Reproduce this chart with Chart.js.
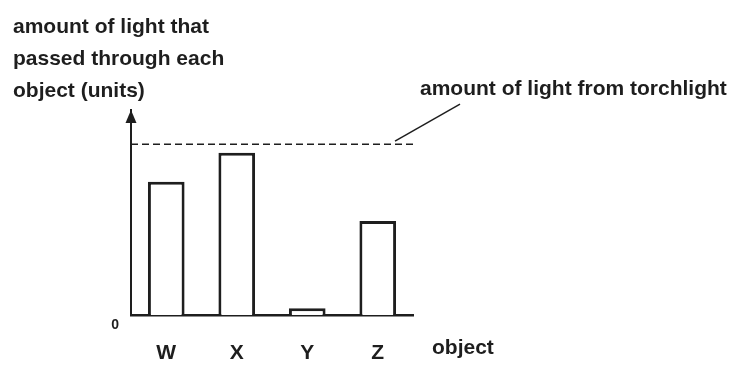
<!DOCTYPE html>
<html>
<head>
<meta charset="utf-8">
<script src="https://cdn.jsdelivr.net/npm/chart.js@4.4.0/dist/chart.umd.min.js"></script>
<style>
   html, body { margin: 0; padding: 0; background: #fff; }
   canvas { display: block; }
</style>
</head>
<body>
<canvas id="myChart" width="736" height="367"></canvas>
<script>
"use strict";

const objects = ["W", "X", "Y", "Z"];
const lightPassed = [78, 95, 4, 55];
const torchLight = 100;
const yTickLabels = [0];
const yTitle = ["amount of light that", "passed through each", "object (units)"];
const xTitle = "object";
const torchLabel = "amount of light from torchlight";

const ink = "#1e1e1e";
const font = "'Liberation Sans', Arial, sans-serif";

// axis arrow, torchlight line, leader and the free texts
const annotations = {
   id: "annotations",
   afterDraw(chart) {
      const ctx = chart.ctx;
      const area = chart.chartArea;
      const ty = chart.scales.y.getPixelForValue(torchLight);
      ctx.save();
      ctx.fillStyle = ink;
      ctx.strokeStyle = ink;

      ctx.beginPath();
      ctx.moveTo(area.left, area.top);
      ctx.lineTo(area.left - 5.5, area.top + 13);
      ctx.lineTo(area.left + 5.5, area.top + 13);
      ctx.closePath();
      ctx.fill();

      ctx.lineWidth = 1.5;
      ctx.setLineDash([7, 4]);
      ctx.beginPath();
      ctx.moveTo(area.left, ty);
      ctx.lineTo(area.right + 4, ty);
      ctx.stroke();
      ctx.setLineDash([]);

      ctx.beginPath();
      ctx.moveTo(area.right - 18, ty - 3);
      ctx.lineTo(area.right + 47, ty - 40);
      ctx.stroke();

      ctx.textAlign = "left";
      ctx.textBaseline = "alphabetic";
      ctx.font = "bold 21px " + font;
      ctx.fillText(torchLabel, area.right + 7, ty - 49);

      yTitle.forEach((line, i) => {
         ctx.fillText(line, 13, 33 + i * 32);
      });

      ctx.fillText(xTitle, area.right + 19, area.bottom + 39);
      ctx.restore();
   },
};

const ctx = document.getElementById("myChart").getContext("2d");
const myChart = new Chart(ctx, {
   type: "bar",
   data: {
      labels: objects,
      datasets: [
         {
            label: "amount of light",
            data: lightPassed,
            backgroundColor: "#fff",
            borderColor: ink,
            borderWidth: 3,
            barPercentage: 0.52,
            categoryPercentage: 1,
         },
      ],
   },
   options: {
      responsive: false,
      animation: false,
      devicePixelRatio: 1,
      layout: {
         padding: { left: 110, right: 323, top: 110, bottom: 0 },
      },
      plugins: {
         legend: { display: false },
         tooltip: { enabled: false },
      },
      scales: {
         x: {
            grid: { display: false, drawTicks: false },
            border: { display: true, color: ink, width: 2.5 },
            ticks: {
               color: ink,
               padding: 26,
               font: { family: font, size: 21, weight: "bold" },
            },
            afterFit: (scale) => { scale.height = 52; },
         },
         y: {
            min: 0,
            max: 120,
            grid: { display: false, drawTicks: false },
            border: { display: true, color: ink, width: 2 },
            ticks: {
               stepSize: 120,
               color: ink,
               padding: 12,
               labelOffset: 10,
               font: { family: font, size: 14, weight: "bold" },
               callback: (v) => (yTickLabels.includes(v) ? String(v) : ""),
            },
            afterFit: (scale) => { scale.width = 21; },
         },
      },
   },
   plugins: [annotations],
});
</script>
</body>
</html>
